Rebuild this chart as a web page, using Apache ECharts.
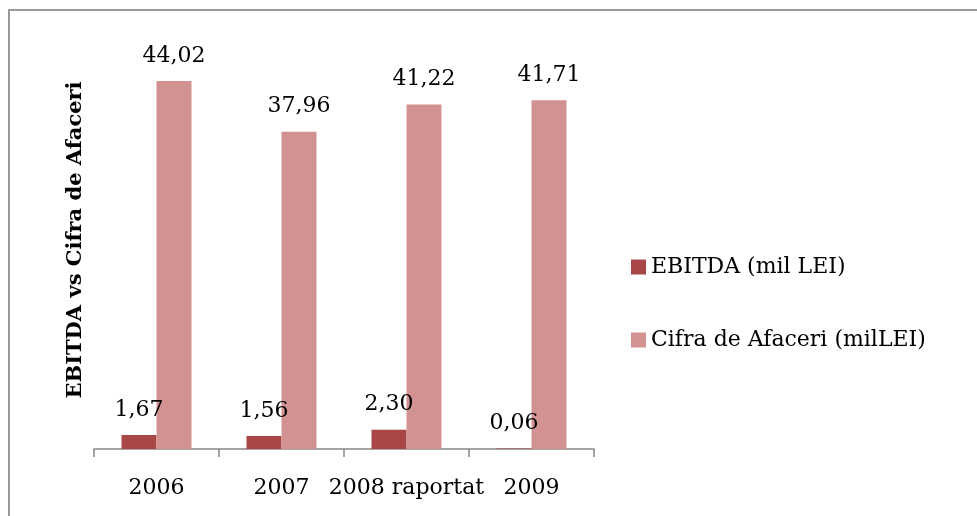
<!DOCTYPE html>
<html>
<head>
<meta charset="utf-8">
<script src="https://cdn.jsdelivr.net/npm/echarts@6/dist/echarts.min.js"></script>
<style>
    html, body { margin: 0; padding: 0; background: #fff; }
    #main { width: 977px; height: 516px; }
</style>
</head>
<body>
<div id="main"></div>
<script>
var years = ['2006', '2007', '2008 raportat', '2009'];
var ebitda = [1.67, 1.56, 2.30, 0.06];
var cifra = [44.02, 37.96, 41.22, 41.71];
var seriesNames = ['EBITDA (mil LEI)', 'Cifra de Afaceri (milLEI)'];

var serif = '"DejaVu Serif", serif';

function fmt(p) {
    return p.value.toFixed(2).replace('.', ',');
}

var myChart = echarts.init(document.getElementById('main'));
var option = {
    backgroundColor: '#fff',
    animation: false,
    graphic: [{
        type: 'rect',
        shape: { x: 9, y: 10, width: 990, height: 530 },
        style: { fill: 'none', stroke: '#9a9a9a', lineWidth: 2 }
    }],
    legend: {
        data: seriesNames,
        orient: 'vertical',
        left: 626,
        top: 251,
        itemWidth: 15,
        itemHeight: 15,
        itemGap: 51,
        icon: 'rect',
        textStyle: { fontFamily: serif, fontSize: 22, color: '#000', lineHeight: 22 }
    },
    grid: {
        left: 94,
        right: 383,
        top: 31,
        bottom: 67
    },
    xAxis: {
        type: 'category',
        data: years,
        axisLine: { lineStyle: { color: '#868686', width: 1.5 } },
        axisTick: { show: true, interval: 0, alignWithLabel: false, length: 8, lineStyle: { color: '#868686', width: 1.5 } },
        axisLabel: { interval: 0, fontFamily: serif, fontSize: 22, color: '#000', margin: 28 }
    },
    yAxis: {
        type: 'value',
        min: 0,
        max: 50,
        name: 'EBITDA vs Cifra de Afaceri',
        nameLocation: 'middle',
        nameGap: 8,
        nameTextStyle: { fontFamily: serif, fontSize: 21, fontWeight: 'bold', color: '#000' },
        axisLine: { show: false },
        axisTick: { show: false },
        axisLabel: { show: false },
        splitLine: { show: false }
    },
    series: [
        {
            name: seriesNames[0],
            type: 'bar',
            data: ebitda,
            barWidth: 35,
            barGap: '0%',
            itemStyle: { color: '#A94646' },
            label: {
                show: true,
                position: 'top',
                distance: 14,
                formatter: fmt,
                fontFamily: serif,
                fontSize: 22,
                color: '#000'
            }
        },
        {
            name: seriesNames[1],
            type: 'bar',
            data: cifra,
            barWidth: 35,
            itemStyle: { color: '#D39292' },
            label: {
                show: true,
                position: 'top',
                distance: 14,
                formatter: fmt,
                fontFamily: serif,
                fontSize: 22,
                color: '#000'
            }
        }
    ]
};
myChart.setOption(option);
</script>
</body>
</html>
